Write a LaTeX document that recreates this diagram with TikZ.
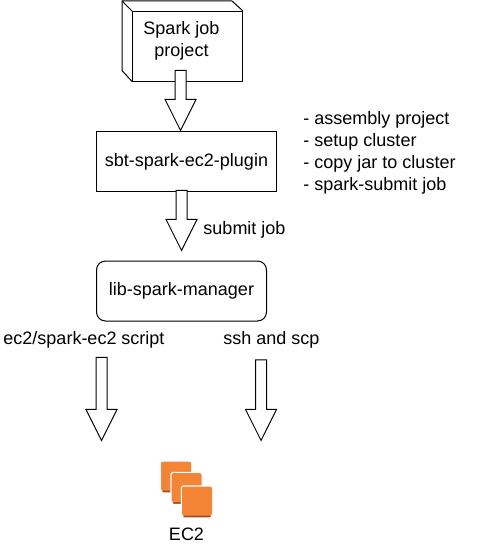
\documentclass[tikz,border=0pt]{standalone}
\usepackage{fontspec}
\setmainfont{Liberation Sans}
\usetikzlibrary{shapes.arrows}
\definecolor{ecorange}{HTML}{F58536}
\definecolor{ecbrown}{HTML}{9D5025}
\tikzstyle{process} = [rectangle, draw=black, fill=white, line width=1pt, minimum width=180pt, minimum height=60pt, inner sep=0pt]
\tikzstyle{manager} = [process, rounded corners=9pt, minimum width=170pt]
\tikzstyle{frontbox} = [process, minimum width=110pt, minimum height=69.5pt]
\tikzstyle{bigarrow} = [single arrow, draw=black, fill=white, line width=1pt, rotate=-90, anchor=tip, inner sep=5pt, minimum width=30pt, single arrow head indent=0pt, single arrow head extend=10pt, single arrow tip angle=53.13, shape border uses incircle=false]
\tikzstyle{note} = [inner sep=0pt, align=left]
\tikzstyle{instance} = [rectangle, rounded corners=2pt, minimum width=30pt, minimum height=32pt, inner sep=0pt]

\begin{document}
\begin{tikzpicture}[x=1pt, y=-1pt, node distance=100pt, font=\fontsize{18}{22}\selectfont]
\useasboundingbox (0,0) rectangle (498,551);

\node (project)  [frontbox] at (187.5,46.25) {};
\node (plugin)   [process, below of=project, xshift=-1pt, yshift=-15.25pt] {\raisebox{-1pt}{sbt-spark-ec2-plugin}};
\node (manager)  [manager, below of=plugin, xshift=-5pt, yshift=-29.5pt] {\raisebox{-1pt}{lib-spark-manager}};

\draw [line width=1pt, line join=round] (project.north west) -- ++(-10,-10) coordinate (backtl) -- ++(110,0) -- (project.north east);
\draw [line width=1pt, line join=round] (backtl) -- ++(0,69.5) -- (project.south west);
\node (projecttext) [note, align=center] at (181.5,40.5) {Spark job\\project};

\node (arrow1) [bigarrow, minimum height=60pt] at (180.5,131.5) {};
\node (arrow2) [bigarrow, minimum height=60pt] at (181.5,251.5) {};
\node (arrow3) [bigarrow, minimum height=83pt] at (101.5,441.5) {};
\node (arrow4) [bigarrow, minimum height=80.5pt] at (261,441.5) {};

\node (steps)    [note] at (379.5,153) {- assembly project\\- setup cluster\\- copy jar to cluster\\- spark-submit job};
\node (submit)   [note] at (244.5,230) {submit job};
\node (script)   [note] at (84,340) {ec2/spark-ec2 script};
\node (ssh)      [note] at (271.5,340) {ssh and scp};

\foreach \cx/\cy [count=\i] in {176/477.5, 186.5/489, 197/502.5} {
	\node (shadow\i) [instance, fill=ecbrown, draw=white, line width=2.5pt] at (\cx,\cy) {};
	\node (face\i)   [instance, fill=ecorange, minimum height=29pt] at (\cx,\cy-1.5) {};
}
\node (ec2) [note] at (186.5,534) {EC2};

\end{tikzpicture}
\end{document}
